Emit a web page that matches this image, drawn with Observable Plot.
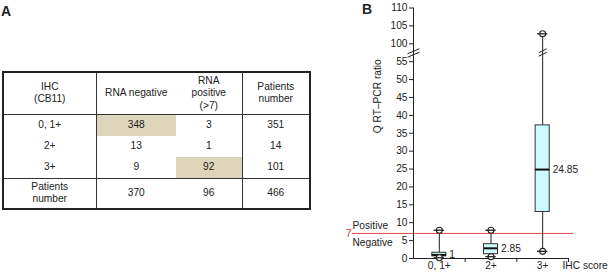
<!DOCTYPE html>
<html>
<head>
<meta charset="utf-8">
<script src="https://cdn.jsdelivr.net/npm/d3@7"></script>
<script src="https://cdn.jsdelivr.net/npm/@observablehq/plot@0.6"></script>
<style>
  html, body { margin: 0; padding: 0; background: #fff; }
  #fig { position: relative; width: 608px; height: 277px; overflow: hidden;
         font-family: "Liberation Sans", Arial, Helvetica, sans-serif; color: #222; }
  .panel { position: absolute; font-weight: bold; font-size: 14px; line-height: 14px; }
  #tbl { position: absolute; left: 2px; top: 71px; border-collapse: collapse; table-layout: fixed;
         font-size: 10.2px; line-height: 12.5px; border: 2px solid #222; }
  #tbl td { padding: 0; text-align: center; vertical-align: middle; }
  #tbl td.vsep { border-right: 1px solid #333; }
  #tbl tr.head td { border-bottom: 1px solid #333; }
  #tbl tr.foot td { border-top: 1px solid #333; }
  #tbl td.hl { background: #ddd6bb; }
  #chart { position: absolute; left: 330px; top: 0; }
</style>
</head>
<body>
<div id="fig">
  <div class="panel" style="left:1px;top:4px">A</div>
  <div class="panel" style="left:362px;top:2px">B</div>
  <div id="chart"></div>
</div>
<script>
// ---------- Panel A: table data ----------
const tableHeaders = ["IHC\n(CB11)", "RNA negative", "RNA\npositive\n(>7)", "Patients\nnumber"];
const ihcScores = ["0, 1+", "2+", "3+"];
const rnaNegative = [348, 13, 9];
const rnaPositive = [3, 1, 92];
const patientsNumber = [351, 14, 101];
const totalsLabel = "Patients\nnumber";
const totals = [370, 96, 466];
const highlightedCells = [[0, 1], [2, 2]]; // [row, column]

// ---------- Panel B: box plot data ----------
const boxCategories = ["0, 1+", "2+", "3+"];
const whiskerLow = [0.2, 0.5, 2];
const quartile1 = [0.6, 1.2, 13];
const medians = [1, 2.85, 24.85];
const quartile3 = [1.6, 4, 37.2];
const whiskerHigh = [7.9, 7.9, 102.8];
const medianLabels = ["1", "2.85", "24.85"];
const yTicks = [0, 5, 10, 15, 20, 25, 30, 35, 40, 45, 50, 55, 100, 105, 110];
const axisGap = [55, 100];
const cutoff = 7;
const cutoffLabels = ["Positive", "Negative"];
const xLabel = "IHC score";
const yLabel = "Q RT\u2013PCR ratio";

// ---------- Build table ----------
const colWidths = [93, 80, 66, 68];
const rowHeights = [42, 22, 21, 21, 31];
const tbl = document.createElement("table");
tbl.id = "tbl";
const cg = document.createElement("colgroup");
colWidths.forEach(w => { const c = document.createElement("col"); c.style.width = w + "px"; cg.appendChild(c); });
tbl.appendChild(cg);
const bodyRows = ihcScores.map((s, i) => [s, rnaNegative[i], rnaPositive[i], patientsNumber[i]]);
const allRows = [tableHeaders, ...bodyRows, [totalsLabel, ...totals]];
allRows.forEach((row, r) => {
  const tr = document.createElement("tr");
  tr.style.height = rowHeights[r] + "px";
  if (r === 0) tr.className = "head";
  if (r === allRows.length - 1) tr.className = "foot";
  row.forEach((v, c) => {
    const td = document.createElement("td");
    td.innerHTML = String(v).split("\n").join("<br>");
    if (c === 0 || c === 2) td.classList.add("vsep");
    if (highlightedCells.some(([hr, hc]) => hr === r - 1 && hc === c)) td.classList.add("hl");
    tr.appendChild(td);
  });
  tbl.appendChild(tr);
});
document.getElementById("fig").appendChild(tbl);

// ---------- Build chart ----------
const [gapLo, gapHi] = axisGap;
const brk = v => v <= gapLo ? v : v >= gapHi ? v - (gapHi - gapLo) + 5 : gapLo + (v - gapLo) * 5 / (gapHi - gapLo);
const breakValue = (gapLo + gapHi) / 2;

const boxes = boxCategories.map((c, i) => ({
  cat: c, pos: i + 0.5, lo: whiskerLow[i], q1: quartile1[i], med: medians[i],
  q3: quartile3[i], hi: whiskerHigh[i], label: medianLabels[i]
}));
const caps = boxes.flatMap(b => [{pos: b.pos, v: b.lo}, {pos: b.pos, v: b.hi}]);

const BOX_HALF = 0.136;
const CAP_HALF = 0.1;
const red = "#e2474f";
const ink = "#222";

const axisBreakSymbol = {draw(c) { c.moveTo(-6, 1); c.lineTo(6, -4); c.moveTo(-6, 4.5); c.lineTo(6, -0.5); }};
const whiskerBreakSymbol = {draw(c) { c.moveTo(-4, 0); c.lineTo(4, -4); c.moveTo(-4, 3.5); c.lineTo(4, -0.5); }};

const chart = Plot.plot({
  width: 278,
  height: 277,
  marginLeft: 83,
  marginRight: 40,
  marginTop: 7.5,
  marginBottom: 19,
  style: {fontFamily: "'Liberation Sans', Arial, Helvetica, sans-serif", fontSize: "10.2px", color: ink, background: "transparent", overflow: "visible"},
  x: {domain: [0, boxCategories.length], axis: null},
  y: {domain: [0, brk(yTicks[yTicks.length - 1])], transform: brk, axis: null},
  marks: [
    // cutoff line
    Plot.ruleY([cutoff], {stroke: red, strokeWidth: 1, insetLeft: -61, insetRight: -5}),
    Plot.text([cutoff], {y: d => d, text: d => String(d), frameAnchor: "left", dx: -68, fill: red, fontSize: 11.5}),
    Plot.text([{t: cutoffLabels[0], y: cutoff}], {y: "y", text: "t", frameAnchor: "left", dx: -61, dy: -8, textAnchor: "start"}),
    Plot.text([{t: cutoffLabels[1], y: cutoff}], {y: "y", text: "t", frameAnchor: "left", dx: -61, dy: 9, textAnchor: "start"}),
    // y axis
    Plot.ruleX([{x: 0, y1: yTicks[0], y2: yTicks[yTicks.length - 1]}], {x: "x", y1: "y1", y2: "y2", stroke: ink}),
    Plot.axisY(yTicks, {tickSize: 4, tickPadding: 2, label: null, stroke: ink, tickFormat: d => String(d)}),
    Plot.dot([{x: 0, y: breakValue}], {x: "x", y: "y", symbol: axisBreakSymbol, r: 5, fill: "none", stroke: ink, strokeWidth: 1}),
    Plot.text([yLabel], {frameAnchor: "left", dx: -36, rotate: -90}),
    // x axis
    Plot.ruleY([0], {stroke: ink}),
    Plot.ruleX(d3.range(1, boxCategories.length + 1), {y1: () => 0, y2: () => 0, insetBottom: -4, stroke: ink}),
    Plot.text(boxes, {x: "pos", text: "cat", frameAnchor: "bottom", dy: 10.5}),
    Plot.text([xLabel], {frameAnchor: "bottom-right", dx: -6, dy: 10.5, textAnchor: "start"}),
    // whiskers
    Plot.ruleX(boxes, {x: "pos", y1: "lo", y2: "hi", stroke: ink, strokeWidth: 1}),
    Plot.dot([{x: boxes[2].pos, y: breakValue}], {x: "x", y: "y", symbol: whiskerBreakSymbol, r: 5, fill: "none", stroke: ink, strokeWidth: 1}),
    // boxes
    Plot.rect(boxes, {x1: d => d.pos - BOX_HALF, x2: d => d.pos + BOX_HALF, y1: "q1", y2: "q3", fill: "#cdfafa", stroke: "#333", strokeWidth: 1}),
    Plot.ruleY(boxes, {x1: d => d.pos - BOX_HALF, x2: d => d.pos + BOX_HALF, y: "med", stroke: "#111", strokeWidth: 2}),
    // whisker ends
    Plot.dot(caps, {x: "pos", y: "v", r: 3, fill: "white", stroke: ink, strokeWidth: 1.1}),
    Plot.ruleY(caps, {x1: d => d.pos - CAP_HALF, x2: d => d.pos + CAP_HALF, y: "v", stroke: ink, strokeWidth: 1.3}),
    // median labels
    Plot.text(boxes, {x: "pos", y: "med", text: "label", dx: 10, textAnchor: "start"})
  ]
});
document.getElementById("chart").appendChild(chart);
</script>
</body>
</html>
